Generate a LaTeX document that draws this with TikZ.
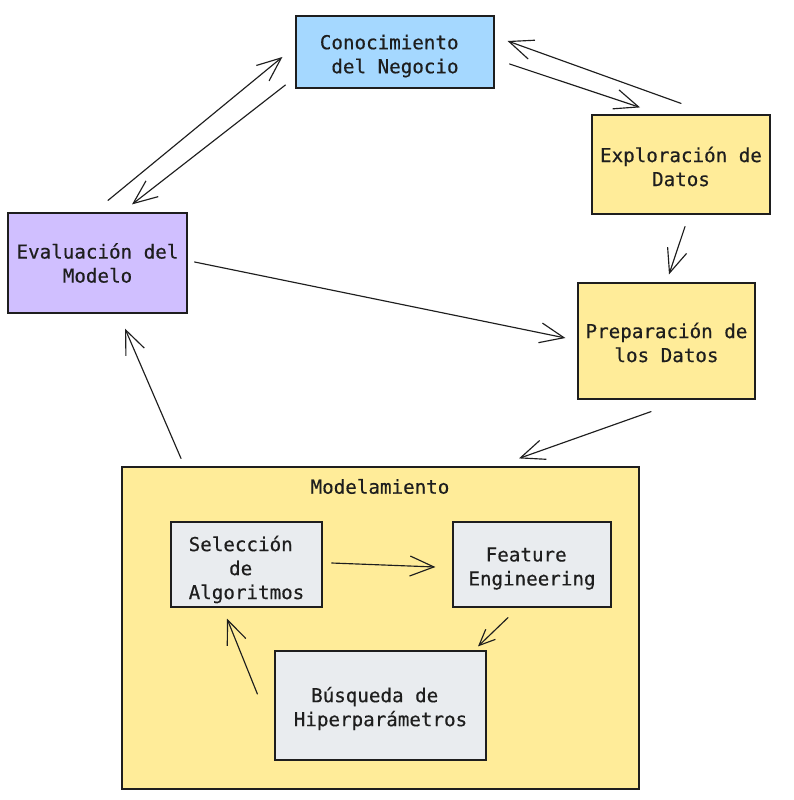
\documentclass[tikz,border=0pt]{standalone}
\usepackage{fontspec}
\setmonofont[FakeBold=0.4]{DejaVu Sans Mono}
\usetikzlibrary{arrows.meta}
\definecolor{ink}{HTML}{1E1E1E}
\definecolor{blueF}{HTML}{A5D8FF}
\definecolor{yellowF}{HTML}{FFEC99}
\definecolor{purpleF}{HTML}{D0BFFF}
\definecolor{grayF}{HTML}{E9ECEF}
% one blank monospace cell, kept at the end of a wrapped line
\newcommand{\tsp}{\hphantom{x}}
\begin{document}
\begin{tikzpicture}[x=1pt,y=-1pt,
  stage/.style={draw=ink, line width=1.2pt, rectangle, inner sep=0pt},
  label/.style={text=ink, inner sep=0pt, align=center,
    font=\ttfamily\fontsize{19.2}{24}\selectfont},
  flow/.style={draw=ink, line width=1.15pt, line cap=round,
    -{Straight Barb[length=24pt,width=20pt,line width=1.15pt]}},
  small/.style={-{Straight Barb[length=16pt,width=14pt,line width=1.15pt]}}]
\useasboundingbox (0,0) rectangle (794,800);
\fill[white] (0,0) rectangle (794,800);

% main stages (text placed slightly below each box centre)
\node[stage, fill=blueF, minimum width=198pt, minimum height=72pt] (neg) at (395,52) {};
\node[label] (negtext) at ([yshift=-4pt]neg.center) {Conocimiento\tsp\\del Negocio};
\node[stage, fill=yellowF, minimum width=178pt, minimum height=99pt] (exp) at (681,164.5) {};
\node[label] (exptext) at ([yshift=-2pt]exp.center) {Exploración de\\Datos};
\node[stage, fill=yellowF, minimum width=177pt, minimum height=116pt] (prep) at (666.5,341) {};
\node[label] (preptext) at ([yshift=-1.5pt]prep.center) {Preparación de\\los Datos};
\node[stage, fill=purpleF, minimum width=179pt, minimum height=100pt] (eval) at (97.5,263) {};
\node[label] (evaltext) at (eval.center) {Evaluación del\\Modelo};

% modelling group
\node[stage, fill=yellowF, minimum width=517pt, minimum height=322pt] (model) at (380.5,628) {};
\node[label] (modtitle) at (380,486.5) {Modelamiento};
\node[stage, fill=grayF, minimum width=151pt, minimum height=85pt] (sel) at (246.5,564.5) {};
\node[label] (seltext) at ([yshift=-5pt]sel.center) {Selección\tsp\\de\tsp\\Algoritmos};
\node[stage, fill=grayF, minimum width=158pt, minimum height=85pt] (feat) at (532,564.5) {};
\node[label] (feattext) at ([yshift=-4pt]feat.center) {Feature\tsp\\Engineering};
\node[stage, fill=grayF, minimum width=211pt, minimum height=109pt] (busq) at (380.5,705.5) {};
\node[label] (busqtext) at ([yshift=-3pt]busq.center) {Búsqueda de\tsp\\Hiperparámetros};

% outer cycle
\draw[flow] ([shift={(15,12)}]neg.east) -- ([shift={(-41,-7)}]exp.north);
\draw[flow] ([shift={(0,-11)}]exp.north) -- ([shift={(13,-11)}]neg.east);
\draw[flow] ([shift={(10.5,-12)}]eval.north) -- ([shift={(-13,5)}]neg.west);
\draw[flow] ([shift={(-10,33)}]neg.west) -- ([shift={(34.5,-8)}]eval.north);
\draw[flow] ([shift={(4,12)}]exp.south) -- ([shift={(2.5,-8)}]prep.north);
\draw[flow] ([shift={(7,-1)}]eval.east) -- ([shift={(-12,-3)}]prep.west);
\draw[flow] ([shift={(-15.5,12)}]prep.south) -- ([shift={(138.5,-8)}]model.north);
\draw[flow] ([shift={(-199.5,-8)}]model.north) -- ([shift={(27.5,15)}]eval.south);

% inner cycle
\draw[flow] ([shift={(9,-1.5)}]sel.east) -- ([shift={(-17,2.5)}]feat.west);
\draw[flow, small] ([shift={(-24,10)}]feat.south) -- ([shift={(97.5,-4)}]busq.north);
\draw[flow] ([shift={(-17,-11.5)}]busq.west) -- ([shift={(-19.5,11)}]sel.south);
\end{tikzpicture}
\end{document}
